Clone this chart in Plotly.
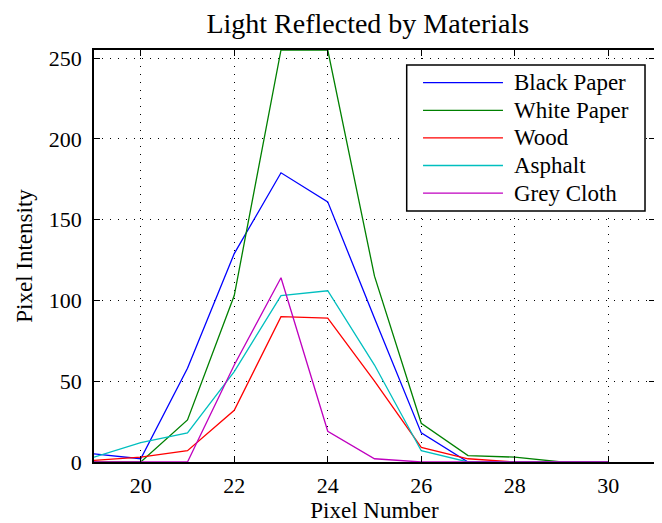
import plotly.graph_objects as go

pixel = [19, 20, 21, 22, 23, 24, 25, 26, 27, 28, 29, 30]
black_paper = [5, 2, 58, 129, 179, 161, 89, 18, 0, 0, 0, 0]
white_paper = [0, 0, 26, 103, 255, 255, 115, 24, 4, 3, 0, 0]
wood = [1, 3, 7, 32, 90, 89, 50, 9, 2, 0, 0, 0]
asphalt = [3, 12, 18, 56, 103, 106, 60, 7, 0, 0, 0, 0]
grey_cloth = [0, 0, 0, 60, 114, 19, 2, 0, 0, 0, 0, 0]

series = [
    ("Black Paper", black_paper, "#0000ff"),
    ("White Paper", white_paper, "#008000"),
    ("Wood", wood, "#ff0000"),
    ("Asphalt", asphalt, "#00bfbf"),
    ("Grey Cloth", grey_cloth, "#bf00bf"),
]

font = "Liberation Serif, Times New Roman, serif"

fig = go.Figure()
for name, vals, col in series:
    fig.add_trace(go.Scatter(x=pixel, y=vals, mode="lines", name=name,
                             line=dict(color=col, width=1.3), cliponaxis=True,
                             showlegend=False))

# custom MATLAB-style legend box (paper coordinates)
box_x0, box_x1, box_y0, box_y1 = 0.5574, 0.9822, 0.6092, 0.9636
line_x0, line_x1, text_x = 0.5865, 0.729, 0.7446
fig.add_shape(type="rect", xref="paper", yref="paper", x0=box_x0, x1=box_x1,
              y0=box_y0, y1=box_y1, fillcolor="white",
              line=dict(color="black", width=1.5), layer="above")
for i, (name, vals, col) in enumerate(series):
    yy = 0.9207 - i * 0.0670
    fig.add_shape(type="line", xref="paper", yref="paper", x0=line_x0, x1=line_x1,
                  y0=yy, y1=yy, line=dict(color=col, width=1.3), layer="above")
    fig.add_annotation(xref="paper", yref="paper", x=text_x, y=yy, text=name,
                       showarrow=False, xanchor="left", yanchor="middle",
                       font=dict(family=font, size=23, color="black"))

axis_common = dict(showline=True, linecolor="black", linewidth=1.5, mirror="ticks",
                   ticks="inside", ticklen=6, tickcolor="black", showgrid=True,
                   gridcolor="black", gridwidth=1, griddash="1px,7px", zeroline=False,
                   automargin=False,
                   tickfont=dict(family=font, size=22, color="black"))
fig.update_xaxes(range=[19, 31], tickvals=[20, 22, 24, 26, 28, 30],
                 ticklabelstandoff=3,
                 title=dict(text="Pixel Number", font=dict(family=font, size=23, color="black"), standoff=4),
                 **axis_common)
fig.update_yaxes(range=[0, 255], tickvals=[0, 50, 100, 150, 200, 250],
                 ticklabelstandoff=6,
                 title=dict(text="Pixel Intensity", font=dict(family=font, size=23, color="black"), standoff=10),
                 **axis_common)
fig.update_layout(
    width=654, height=515,
    margin=dict(l=86, r=7, t=42, b=61, autoexpand=False),
    paper_bgcolor="white", plot_bgcolor="white",
    title=dict(text="Light Reflected by Materials", xref="paper", x=0.488, xanchor="center",
               yref="container", y=1 - 14.7 / 515, yanchor="middle", automargin=False,
               font=dict(family=font, size=28, color="black")),
    showlegend=False,
)
fig.write_html("out.html")
